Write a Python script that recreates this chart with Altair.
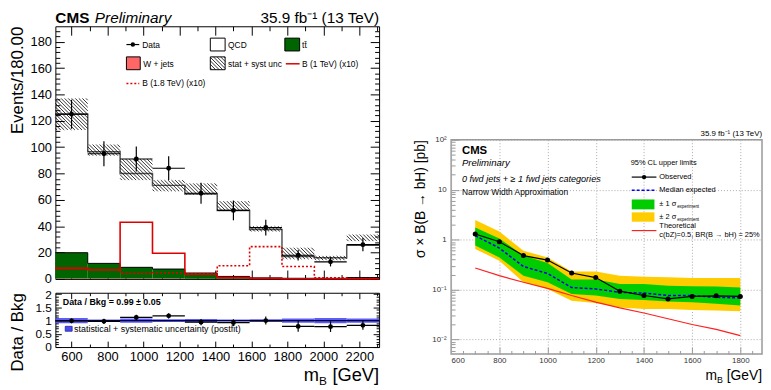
import altair as alt
import pandas as pd
import numpy as np

FONT = "Liberation Sans"

# ---------------- left panel: m_B distribution ----------------
bin_lo = [510, 690, 870, 1050, 1230, 1410, 1590, 1770, 1950, 2130]
bin_hi = [690, 870, 1050, 1230, 1410, 1590, 1770, 1950, 2130, 2310]
bin_center = [600, 780, 960, 1140, 1320, 1500, 1680, 1860, 2040, 2220]
data_counts = [125, 95, 91, 84, 65, 52, 39, 18, 13, 26]
data_err = [11, 9.5, 9.5, 9, 8, 7.5, 6, 4, 3.5, 5]
bkg_total = [125, 96.5, 80, 71, 64.5, 52, 37.5, 17, 16, 25.5]
unc_lo = [113, 93.5, 75, 66.5, 64, 51.5, 36, 15, 14.2, 28.7]
unc_hi = [137, 102, 91, 75, 72.5, 59, 40, 23.7, 17.5, 33.7]
ttbar = [19.5, 11.5, 8.5, 7.2, 4.3, 1.8, 0.7, 0.4, 0.4, 1.0]
wjets = [0.4, 0.3, 0.3, 0.3, 0.2, 0.1, 0.1, 0.1, 0.1, 0.1]
sig_1tev = [8, 7, 43, 19.5, 3.5, 1.0, 0.4, 0.2, 0.1, 0.1]
sig_18tev = [8, 7, 4.2, 4.7, 4.0, 10, 24.5, 9.5, 0.8, 0.3]
ratio = [0.99, 0.97, 1.12, 1.18, 0.94, 0.92, 1.0, 0.78, 0.77, 0.82]
ratio_err = [0.09, 0.1, 0.1, 0.1, 0.12, 0.13, 0.15, 0.2, 0.2, 0.17]
band_half = [0.1, 0.04, 0.08, 0.05, 0.06, 0.04, 0.05, 0.08, 0.1, 0.08]

# ---------------- right panel: limits ----------------
mass = [700, 800, 900, 1000, 1100, 1200, 1300, 1400, 1500, 1600, 1700, 1800]
observed = [1.30, 0.91, 0.48, 0.39, 0.215, 0.174, 0.093, 0.076, 0.065, 0.073, 0.075, 0.073]
expected = [1.2, 0.68, 0.29, 0.21, 0.11, 0.103, 0.088, 0.085, 0.076, 0.076, 0.07, 0.068]
s1_lo = [0.76, 0.44, 0.19, 0.14, 0.082, 0.076, 0.065, 0.062, 0.058, 0.056, 0.052, 0.048]
s1_hi = [1.76, 1.06, 0.48, 0.34, 0.16, 0.16, 0.13, 0.13, 0.12, 0.117, 0.115, 0.11]
s2_lo = [0.65, 0.38, 0.14, 0.103, 0.06, 0.054, 0.044, 0.041, 0.041, 0.039, 0.038, 0.037]
s2_hi = [2.47, 1.45, 0.60, 0.44, 0.23, 0.23, 0.19, 0.18, 0.176, 0.17, 0.17, 0.17]
theory = [0.27, 0.19, 0.14, 0.106, 0.076, 0.056, 0.043, 0.034, 0.026, 0.02, 0.016, 0.012]

# tick positions
main_y_ticks = list(range(0, 192, 4))
mass_ticks = list(range(600, 2301, 100))
ratio_ticks = [round(0.1 * i, 1) for i in range(0, 21)]
right_x_ticks = list(range(650, 1851, 50))
right_y_ticks = [k * 10.0 ** e for e in range(-3, 3) for k in range(1, 10)]
right_y_ticks = [v for v in right_y_ticks if 0.0052 <= v <= 100]

# ---------------- layout ----------------
W1, H1, H2 = 328, 256, 55
X_DOM = [510, 2310]
Y_DOM = [0, 191.7]
R_DOM = [0, 2.05]
W3, H3 = 315, 217
RX_DOM = [600, 1890]
RY_DOM = [0.00514, 100]
KX = W1 / (X_DOM[1] - X_DOM[0])
KY = H1 / (Y_DOM[1] - Y_DOM[0])

one = pd.DataFrame({"a": [0]})

df = pd.DataFrame({
    "lo": bin_lo, "hi": bin_hi, "c": bin_center, "data": data_counts,
    "dlo": np.array(data_counts) - np.array(data_err),
    "dhi": np.array(data_counts) + np.array(data_err),
    "wj": wjets, "tt": np.array(wjets) + np.array(ttbar),
    "r": ratio, "rlo": np.array(ratio) - np.array(ratio_err),
    "rhi": np.array(ratio) + np.array(ratio_err),
    "blo": 1 - np.array(band_half), "bhi": 1 + np.array(band_half),
})

def steps(vals):
    return pd.DataFrame({"x": bin_lo + [bin_hi[-1]], "y": list(vals) + [vals[-1]]})

def hatch_rows(boxes, step=3.6):
    rows = []
    for x0, x1, y0, y1 in boxes:
        w = (x1 - x0) * KX
        h = (y1 - y0) * KY
        for c in np.arange(-h + step / 2, w, step):
            pxa = max(c, 0.0); pya = pxa - c
            pxb = min(w, h + c); pyb = pxb - c
            if pxb - pxa < 0.3:
                continue
            rows.append({"hx": x0 + pxa / KX, "hy": y1 - pya / KY,
                         "hx2": x0 + pxb / KX, "hy2": y1 - pyb / KY})
    return pd.DataFrame(rows)

def px2x(p):
    return X_DOM[0] + p / KX

def px2y(p):
    return Y_DOM[1] - p / KY

xs = alt.Scale(domain=X_DOM, nice=False, zero=False)
ys = alt.Scale(domain=Y_DOM, nice=False, zero=False)

def txt(text, x, y, size, weight="normal", style="normal", align="left",
        baseline="middle", color="black"):
    return alt.Chart(one).mark_text(
        text=text, fontSize=size, fontWeight=weight, fontStyle=style,
        align=align, baseline=baseline, color=color, font=FONT
    ).encode(x=alt.value(x), y=alt.value(y))

def box(x0, x1, y0, y1, fill, stroke="black", sw=1):
    return alt.Chart(one).mark_rect(fill=fill, stroke=stroke, strokeWidth=sw).encode(
        x=alt.value(x0), x2=alt.value(x1), y=alt.value(y0), y2=alt.value(y1))

def hline(x0, x1, y, color, dash=None, sw=1.5):
    kw = dict(color=color, strokeWidth=sw)
    if dash:
        kw["strokeDash"] = dash
    return alt.Chart(one).mark_rule(**kw).encode(
        x=alt.value(x0), x2=alt.value(x1), y=alt.value(y))

def dot(x, y, size=22):
    return alt.Chart(one).mark_point(filled=True, color="black", size=size, opacity=1).encode(
        x=alt.value(x), y=alt.value(y))

def tick_axis(orient, offset, values, test, major, minor, color="black"):
    return alt.Axis(orient=orient, offset=offset, values=values, labels=False,
                    domain=False, ticks=True, grid=False, title=None,
                    tickColor=color, tickWidth=1,
                    tickSize={"condition": {"test": test, "value": major}, "value": minor})

def tick_layers(data, xf, yf, xscale, yscale, W, H, xvals, xtest, yvals, ytest,
                sides=("left", "right", "bottom", "top"), color="black",
                xmaj=8, xmin=4, ymaj=8, ymin=4):
    out = []
    base = alt.Chart(data).mark_point(opacity=0, size=1)
    if "left" in sides:
        out.append(base.encode(
            x=alt.X(xf, type="quantitative", scale=xscale, axis=None),
            y=alt.Y(yf, type="quantitative", scale=yscale,
                    axis=tick_axis("right", -W, yvals, ytest, ymaj, ymin, color))))
    if "right" in sides:
        out.append(base.encode(
            x=alt.X(xf, type="quantitative", scale=xscale, axis=None),
            y=alt.Y(yf, type="quantitative", scale=yscale,
                    axis=tick_axis("left", -W, yvals, ytest, ymaj, ymin, color))))
    if "bottom" in sides:
        out.append(base.encode(
            x=alt.X(xf, type="quantitative", scale=xscale,
                    axis=tick_axis("top", -H, xvals, xtest, xmaj, xmin, color)),
            y=alt.Y(yf, type="quantitative", scale=yscale, axis=None)))
    if "top" in sides:
        out.append(base.encode(
            x=alt.X(xf, type="quantitative", scale=xscale,
                    axis=tick_axis("bottom", -H, xvals, xtest, xmaj, xmin, color)),
            y=alt.Y(yf, type="quantitative", scale=yscale, axis=None)))
    return out

yax_main = alt.Axis(values=list(range(0, 181, 20)), labelFontSize=13, ticks=False,
                    domain=False, labelPadding=4, minExtent=26, maxExtent=26,
                    title="Events/180.00", titleFontSize=17, titleFontWeight="normal",
                    titleAnchor="end", titlePadding=3, grid=False)

def X(f):
    return alt.X(f, type="quantitative", scale=xs, axis=None)

def Y(f, ax=None):
    return alt.Y(f, type="quantitative", scale=ys, axis=ax)

leg_box = (px2x(157), px2x(172), px2y(44), px2y(31))
hatch_df = hatch_rows(list(zip(bin_lo, bin_hi, unc_lo, unc_hi)) + [leg_box])

wj_l = alt.Chart(df).mark_rect(fill="#ff6666").encode(x=X("lo"), x2="hi", y=Y("wj", yax_main), y2=alt.datum(0))
tt_l = alt.Chart(df).mark_rect(fill="#006400").encode(x=X("lo"), x2="hi", y=Y("tt"), y2="wj")
tt_line = alt.Chart(steps(list(df["tt"]))).mark_line(interpolate="step-after", color="black", strokeWidth=1).encode(x=X("x"), y=Y("y"))
bkg_line = alt.Chart(steps(bkg_total)).mark_line(interpolate="step-after", color="#555555", strokeWidth=1.5).encode(x=X("x"), y=Y("y"))
hatch_l = alt.Chart(hatch_df).mark_rule(color="black", strokeWidth=0.8).encode(x=X("hx"), x2="hx2", y=Y("hy"), y2="hy2")
s1_l = alt.Chart(steps(sig_1tev)).mark_line(interpolate="step-after", color="#dd0000", strokeWidth=1.6).encode(x=X("x"), y=Y("y"))
s18_l = alt.Chart(steps(sig_18tev)).mark_line(interpolate="step-after", color="#dd0000", strokeWidth=1.6, strokeDash=[2, 2]).encode(x=X("x"), y=Y("y"))
dh_l = alt.Chart(df).mark_rule(color="black", strokeWidth=1.2).encode(x=X("lo"), x2="hi", y=Y("data"))
dv_l = alt.Chart(df).mark_rule(color="black", strokeWidth=1.2).encode(x=X("c"), y=Y("dlo"), y2="dhi")
dp_l = alt.Chart(df).mark_point(filled=True, color="black", size=24, opacity=1).encode(x=X("c"), y=Y("data"))

main_ticks = tick_layers(df, "c", "data", xs, ys, W1, H1, mass_ticks, "datum.value % 200 === 0",
                         main_y_ticks, "datum.value % 20 === 0", xmaj=9, xmin=4.5, ymaj=9, ymin=4.5)

main_texts = [
    txt("CMS", 0, -3, 15.5, weight="bold", baseline="alphabetic"),
    txt("Preliminary", 40, -3, 15.5, style="italic", baseline="alphabetic"),
    txt("35.9 fb⁻¹ (13 TeV)", W1, -3, 15.5, align="right", baseline="alphabetic"),
    hline(72, 85, 18.5, "black", sw=1.2), dot(78.5, 18.5, 20),
    txt("Data", 88, 19, 8.5),
    box(157, 172, 12, 25, "white"),
    txt("QCD", 175, 19, 8.5),
    box(232.5, 247.5, 12, 25, "#006400"),
    txt("tt̄", 250, 19, 8.5),
    box(72, 86, 31, 44, "#ff6666"),
    txt("W + jets", 89, 38, 8.5),
    box(157, 172, 31, 44, "none"),
    txt("stat + syst unc", 175, 38, 8.5),
    hline(233.5, 247.5, 38, "#dd0000"),
    txt("B (1 TeV) (x10)", 250, 38, 8.5),
    hline(72, 85, 58, "#dd0000", dash=[2, 2]),
    txt("B (1.8 TeV) (x10)", 88, 58, 8.5),
]

main = alt.layer(wj_l, tt_l, tt_line, bkg_line, hatch_l, s1_l, s18_l, dh_l, dv_l, dp_l,
                 *main_ticks, *main_texts).resolve_axis(x="independent", y="independent").properties(
    width=W1, height=H1, view=alt.ViewBackground(stroke="black", strokeWidth=1))

# ---------------- ratio panel ----------------
rys = alt.Scale(domain=R_DOM, nice=False, zero=False)
xax_r = alt.Axis(values=list(range(600, 2201, 200)), format="d", labelFontSize=13, ticks=False,
                 domain=False, labelPadding=4, title=None, grid=False)
yax_r = alt.Axis(values=[0, 0.5, 1, 1.5, 2], format="~g", labelFontSize=12, ticks=False,
                 domain=False, labelPadding=4, minExtent=26, maxExtent=26,
                 title="Data / Bkg", titleFontSize=17, titleFontWeight="normal",
                 titleAnchor="end", titlePadding=3, grid=False)

def RX(f, ax=None):
    return alt.X(f, type="quantitative", scale=xs, axis=ax)

def RY(f, ax=None):
    return alt.Y(f, type="quantitative", scale=rys, axis=ax)

unity = pd.DataFrame({"x": [X_DOM[0]], "x2": [X_DOM[1]], "y": [1.0]})
band_l = alt.Chart(df).mark_rect(fill="#4b4bf5", opacity=0.9).encode(x=RX("lo", xax_r), x2="hi", y=RY("blo", yax_r), y2="bhi")
one_l = alt.Chart(unity).mark_rule(color="#000040", strokeWidth=1.2).encode(x=RX("x"), x2="x2", y=RY("y"))
rh_l = alt.Chart(df).mark_rule(color="black", strokeWidth=1.2).encode(x=RX("lo"), x2="hi", y=RY("r"))
rv_l = alt.Chart(df).mark_rule(color="black", strokeWidth=1.2).encode(x=RX("c"), y=RY("rlo"), y2="rhi")
rp_l = alt.Chart(df).mark_point(filled=True, color="black", size=24, opacity=1).encode(x=RX("c"), y=RY("r"))

ratio_ticks_l = tick_layers(df, "c", "r", xs, rys, W1, H2, mass_ticks, "datum.value % 200 === 0",
                            ratio_ticks, "abs(datum.value * 2 - round(datum.value * 2)) < 0.001",
                            xmaj=6, xmin=3, ymaj=6, ymin=3)

ratio_texts = [
    txt("Data / Bkg = 0.99 ± 0.05", 7.5, 9, 9, weight="bold"),
    box(10, 17, 34, 39, "#4b4bf5", stroke="#2020a0", sw=0.8),
    txt("statistical + systematic uncertainty (postfit)", 19, 36.5, 9),
    txt("[GeV]", W1, 89, 18.5, align="right", baseline="alphabetic"),
    txt("B", 267, 93, 12, baseline="alphabetic"),
    txt("m", 267, 89, 18.5, align="right", baseline="alphabetic"),
]

ratio_chart = alt.layer(band_l, one_l, rh_l, rv_l, rp_l, *ratio_ticks_l, *ratio_texts).resolve_axis(
    x="independent", y="independent").properties(
    width=W1, height=H2, view=alt.ViewBackground(stroke="black", strokeWidth=1))

left_col = alt.vconcat(main, ratio_chart, spacing=0)

# ---------------- right panel ----------------
rdf = pd.DataFrame({"m": mass, "obs": observed, "exp": expected, "s1lo": s1_lo,
                    "s1hi": s1_hi, "s2lo": s2_lo, "s2hi": s2_hi, "th": theory})
rxs = alt.Scale(domain=RX_DOM, nice=False, zero=False)
rys3 = alt.Scale(type="log", domain=RY_DOM, nice=False)
xax3 = alt.Axis(values=list(range(600, 1801, 200)), format="d", labelFontSize=8, labelColor="#333333",
                ticks=False, domain=False, labelPadding=3, title=None, grid=True,
                gridDash=[1, 2], gridColor="#aaaaaa", gridWidth=1)
yax3 = alt.Axis(values=[0.01, 0.1, 1, 10, 100], labelFontSize=8, labelColor="#333333",
                labelExpr="datum.value >= 99 ? '10²' : datum.value >= 9 ? '10' : datum.value >= 0.9 ? '1' : datum.value >= 0.09 ? '10⁻¹' : '10⁻²'",
                ticks=False, domain=False, labelPadding=5, minExtent=22, maxExtent=22,
                title="σ × B(B → bH) [pb]", titleFontSize=14, titleFontWeight="normal",
                titleAnchor="end", titlePadding=2, grid=True, gridDash=[1, 2],
                gridColor="#aaaaaa", gridWidth=1)

def X3(f, ax=None):
    return alt.X(f, type="quantitative", scale=rxs, axis=ax)

def Y3(f, ax=None):
    return alt.Y(f, type="quantitative", scale=rys3, axis=ax)

y2b = alt.Chart(rdf).mark_area(color="#ffcc00", opacity=1).encode(x=X3("m", xax3), y=Y3("s2lo", yax3), y2="s2hi")
y1b = alt.Chart(rdf).mark_area(color="#00cc00", opacity=1).encode(x=X3("m"), y=Y3("s1lo"), y2="s1hi")
th_l = alt.Chart(rdf).mark_line(color="#ff2020", strokeWidth=1.2).encode(x=X3("m"), y=Y3("th"))
ex_l = alt.Chart(rdf).mark_line(color="#0000ee", strokeWidth=1.5, strokeDash=[3, 2]).encode(x=X3("m"), y=Y3("exp"))
ob_l = alt.Chart(rdf).mark_line(color="black", strokeWidth=1.2).encode(x=X3("m"), y=Y3("obs"))
op_l = alt.Chart(rdf).mark_point(filled=True, color="black", size=26, opacity=1).encode(x=X3("m"), y=Y3("obs"))

log_test = "abs(log(datum.value) / LN10 - round(log(datum.value) / LN10)) < 0.001"
right_ticks_l = tick_layers(rdf, "m", "obs", rxs, rys3, W3, H3, right_x_ticks, "datum.value % 200 === 0",
                            right_y_ticks, log_test, sides=("left", "bottom"), color="#999999",
                            xmaj=7, xmin=3.5, ymaj=8, ymin=4)

right_texts = [
    txt("35.9 fb⁻¹ (13 TeV)", W3, -3.5, 8, align="right", baseline="alphabetic"),
    txt("CMS", 11, 14.5, 11.5, weight="bold", baseline="alphabetic"),
    txt("Preliminary", 11, 26.5, 9.7, style="italic", baseline="alphabetic"),
    txt("0 fwd jets + ≥ 1 fwd jets categories", 11, 42.5, 9.2, style="italic", baseline="alphabetic"),
    txt("Narrow Width Approximation", 11, 55.5, 8.5, baseline="alphabetic"),
    txt("95% CL upper limits", 182, 23.5, 7.5),
    hline(183, 208, 37.8, "black", sw=1.2), dot(195.5, 37.8, 20),
    txt("Observed", 211, 37.8, 7.5),
    hline(183, 208, 51.2, "#0000ee", dash=[3, 2]),
    txt("Median expected", 211, 51.2, 7.5),
    box(183, 206, 60.5, 70.5, "#00cc00", stroke="#00cc00", sw=0),
    txt("± 1 σ", 211, 65.5, 7.5),
    txt("experiment", 229, 68, 4.5),
    box(183, 206, 73.5, 83, "#ffcc00", stroke="#ffcc00", sw=0),
    txt("± 2 σ", 211, 78.5, 7.5),
    txt("experiment", 229, 81, 4.5),
    hline(183, 208, 92, "#ff2020", sw=1.2),
    txt("Theoretical", 211, 87.8, 7.5),
    txt("c(bZ)=0.5, BR(B → bH) = 25%", 211, 97, 7.5),
    txt("[GeV]", W3, 243.5, 14, align="right", baseline="alphabetic"),
    txt("B", 269.5, 246.5, 9, baseline="alphabetic"),
    txt("m", 269.5, 243.5, 14, align="right", baseline="alphabetic"),
]

right_chart = alt.layer(y2b, y1b, th_l, ex_l, ob_l, op_l, *right_ticks_l, *right_texts).resolve_axis(
    x="independent", y="independent").properties(
    width=W3, height=H3, view=alt.ViewBackground(stroke="#999999", strokeWidth=1.5))

SPACER_H = 104
spacer = alt.Chart(one).mark_rect(opacity=0, strokeWidth=0).encode(
    x=alt.value(0), x2=alt.value(1), y=alt.value(0), y2=alt.value(SPACER_H)).properties(
    width=1, height=SPACER_H, view=alt.ViewBackground(strokeWidth=0))

right_col = alt.vconcat(spacer, right_chart, spacing=0)

chart = alt.hconcat(left_col, right_col, spacing=30).properties(padding=0).configure(
    font=FONT).configure_view(stroke=None)

chart.save("out.html", embed_options={"renderer": "svg", "actions": False})
